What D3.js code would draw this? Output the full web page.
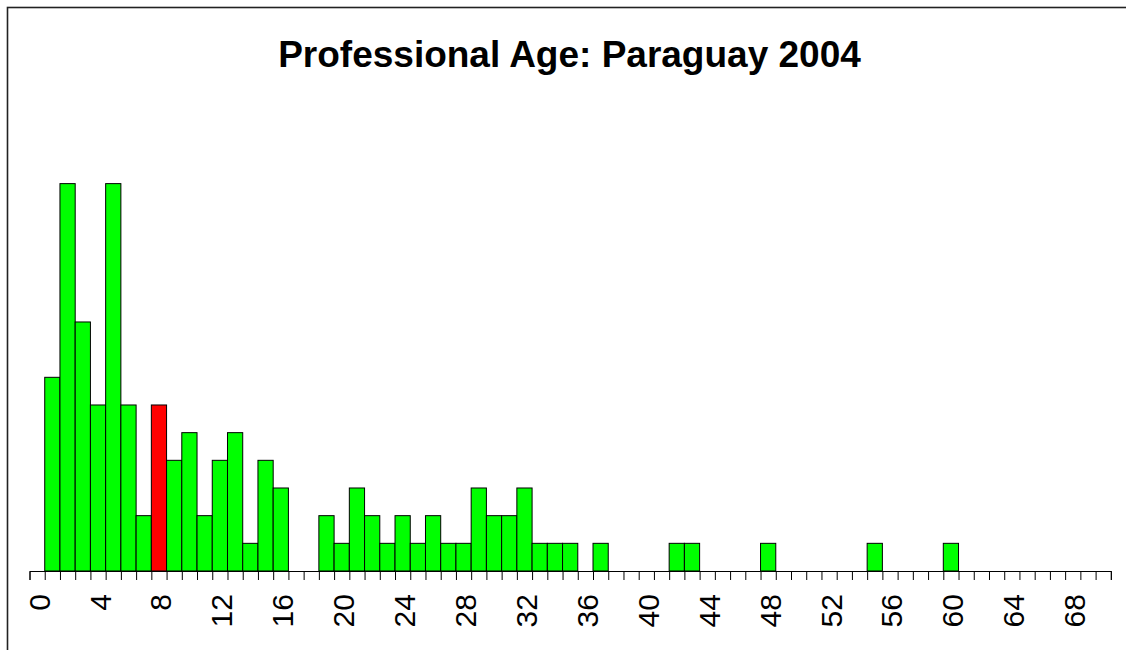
<!DOCTYPE html>
<html><head><meta charset="utf-8">
<script src="https://cdn.jsdelivr.net/npm/d3@7"></script>
<style>html,body{margin:0;padding:0;background:#fff;}svg{display:block;}</style>
</head><body>
<svg id="chart" width="1126" height="650"></svg>
<script>
const title = "Professional Age: Paraguay 2004";
const ages = [0,1,2,3,4,5,6,7,8,9,10,11,12,13,14,15,16,17,18,19,20,21,22,23,24,25,26,27,28,29,30,31,32,33,34,35,36,37,38,39,40,41,42,43,44,45,46,47,48,49,50,51,52,53,54,55,56,57,58,59,60,61,62,63,64,65,66,67,68,69,70];
const counts = [0,7,14,9,6,14,6,2,6,4,5,2,4,5,1,4,3,0,0,2,1,3,2,1,2,1,2,1,1,3,2,2,3,1,1,1,0,1,0,0,0,0,1,1,0,0,0,0,1,0,0,0,0,0,0,1,0,0,0,0,1,0,0,0,0,0,0,0,0,0,0];
const highlightAge = [8];
const tickLabels = [0,4,8,12,16,20,24,28,32,36,40,44,48,52,56,60,64,68];

const svg = d3.select("#chart");
const left = 29.5, bw = 15.23, base = 571, unit = 27.67;
const x = d3.scaleBand().domain(ages).range([left, left + ages.length * bw]).padding(0);
const xl = d3.scaleLinear().domain([0, ages.length]).range([left, left + ages.length * bw]);
const y = d3.scaleLinear().domain([0, 14]).range([base, base - 14 * unit]);

// frame
svg.append("rect").attr("x", 7.5).attr("y", 7.5).attr("width", 1300).attr("height", 800)
  .attr("fill", "none").attr("stroke", "#222").attr("stroke-width", 1.6);

// title
svg.append("text").attr("x", 569.5).attr("y", 67).attr("text-anchor", "middle")
  .attr("font-family", "Liberation Sans, Arial, sans-serif").attr("font-weight", "bold")
  .attr("font-size", 37).text(title);

// bars
svg.append("g").selectAll("rect").data(ages.filter((a, i) => counts[i] > 0)).join("rect")
  .attr("x", a => x(a)).attr("width", x.bandwidth())
  .attr("y", a => y(counts[ages.indexOf(a)]))
  .attr("height", a => y(0) - y(counts[ages.indexOf(a)]))
  .attr("fill", a => highlightAge.includes(a) ? "#ff0000" : "#00ff00")
  .attr("stroke", "#000").attr("stroke-width", 1);

// axis
const ax = d3.axisBottom(xl).tickValues(d3.range(0, ages.length + 1)).tickSize(9).tickFormat("");
const g = svg.append("g").attr("transform", `translate(0,${base})`).call(ax);
g.select(".domain").attr("stroke", "#000").attr("stroke-width", 1);
g.selectAll(".tick line").attr("stroke", "#000").attr("stroke-width", 1);

// labels
svg.append("g").selectAll("text").data(tickLabels).join("text")
  .attr("transform", d => `translate(${x(d) + x.bandwidth() / 2 + 12.5},594) rotate(-90)`)
  .attr("text-anchor", "end")
  .attr("font-family", "Liberation Sans, Arial, sans-serif").attr("font-size", 30)
  .text(d => d);
</script>
</body></html>
